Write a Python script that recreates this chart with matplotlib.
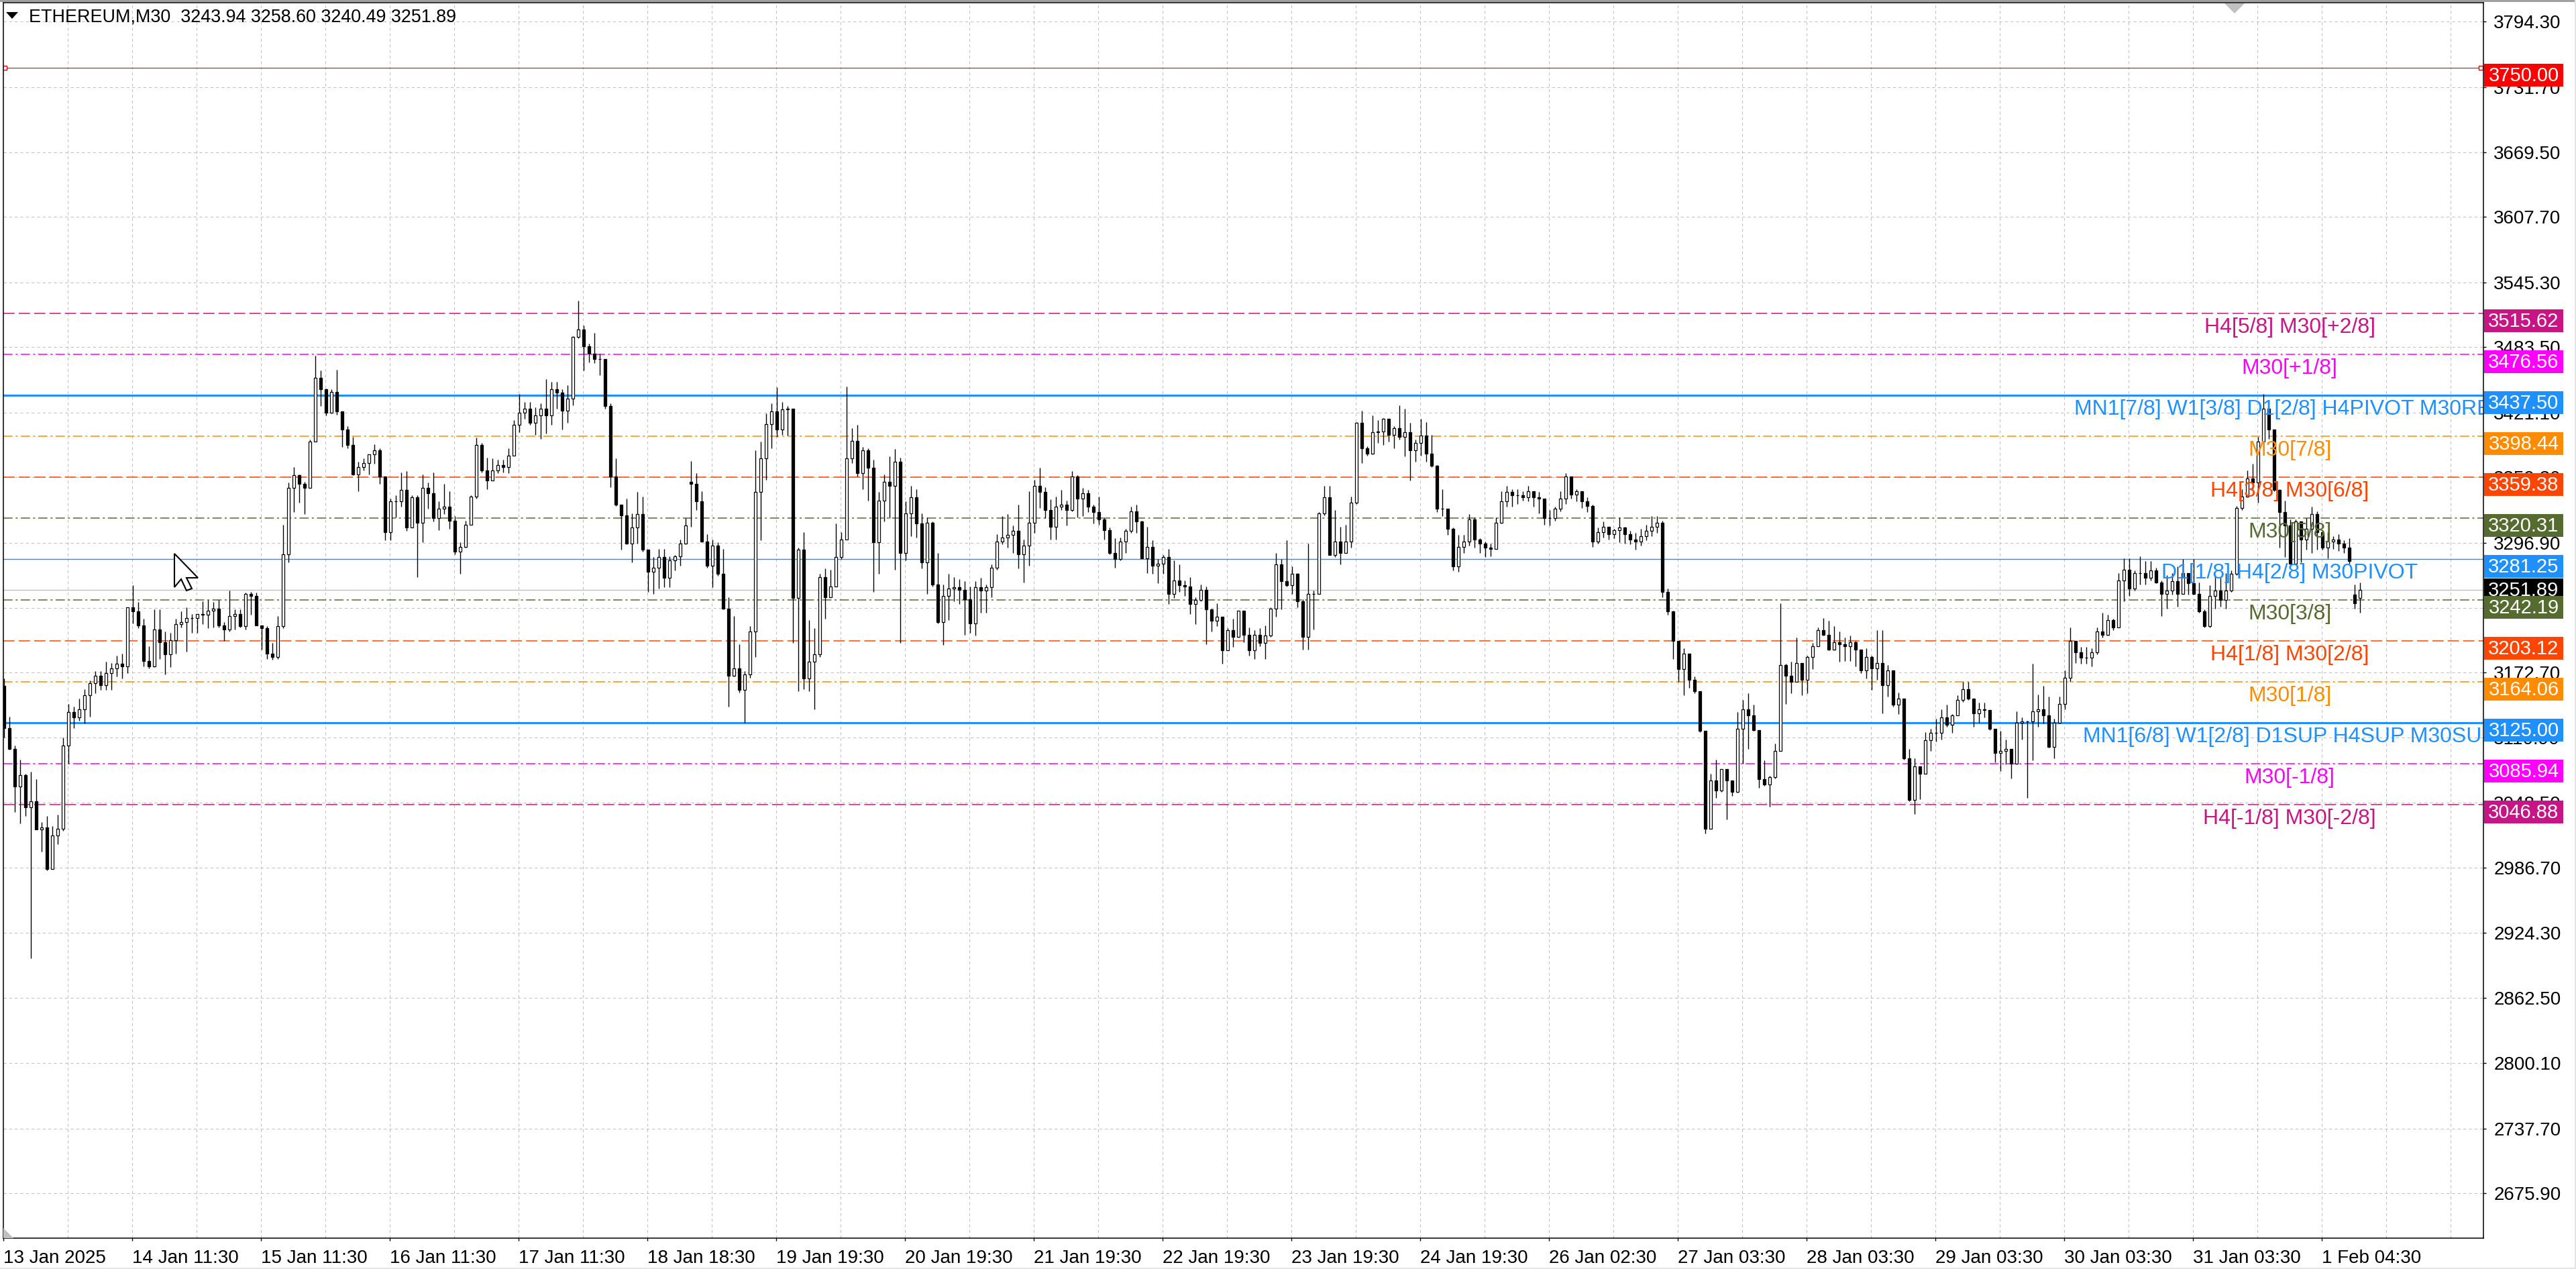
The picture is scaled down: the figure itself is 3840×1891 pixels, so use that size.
import numpy as np
import matplotlib
matplotlib.use('Agg')
import matplotlib.pyplot as plt
from matplotlib.patches import Polygon, Rectangle

plt.rcParams['font.family'] = ['Liberation Sans', 'DejaVu Sans']

W, H = 3840, 1891

# bars, oldest first, about one hour per bar
closes = [
    3120, 3100, 3064, 3075, 3044, 3050, 3023, 3025, 2985, 3017, 3024, 3103, 3135, 3130, 3138, 3151, 3163, 3170, 3161, 3172, 3177, 3181, 3179, 3235,
    3231, 3218, 3184, 3179, 3214, 3202, 3190, 3204, 3219, 3221, 3225, 3225, 3229, 3228, 3232, 3234, 3218, 3214, 3227, 3229, 3217, 3248, 3246, 3218,
    3215, 3191, 3188, 3217,
    3286, 3349, 3361, 3353, 3349, 3393, 3454, 3443, 3421, 3441, 3422, 3405, 3390, 3362, 3369, 3373, 3381, 3385, 3360, 3307,
    3336, 3336, 3347, 3311, 3340, 3316, 3349, 3344, 3320, 3329, 3331, 3318, 3288, 3293, 3314, 3341, 3390, 3366, 3356, 3366, 3371, 3369, 3380, 3409, 3421, 3425, 3411, 3418, 3425,
    3418, 3443, 3440, 3423, 3434, 3493, 3500, 3484, 3477, 3472, 3472, 3427, 3360, 3333, 3323, 3296, 3311, 3324, 3290, 3269, 3273, 3283, 3263, 3280,
    3284, 3296, 3313, 3353, 3336, 3298, 3275, 3294, 3267, 3234, 3170, 3177, 3156, 3171, 3212, 3345, 3377, 3410, 3422, 3405, 3424, 3425, 3244, 3290,
    3167, 3183, 3190, 3264, 3245, 3255, 3283, 3300, 3377, 3394, 3363, 3385, 3368, 3297, 3337, 3355, 3351, 3374, 3287, 3325, 3340, 3315, 3278, 3316,
    3257, 3221, 3246, 3253, 3254, 3252, 3243, 3220, 3254, 3251, 3254, 3273, 3298, 3302, 3304, 3308, 3286, 3294, 3316, 3351, 3345, 3328, 3312, 3331, 3333, 3328, 3360,
    3339, 3344, 3331, 3326, 3319, 3309, 3287, 3281, 3298, 3308, 3327, 3317, 3282, 3293, 3275, 3277, 3283, 3248, 3261, 3256, 3255, 3238, 3242, 3252,
    3233, 3222, 3226, 3194, 3213, 3207, 3232, 3209, 3194, 3209, 3201, 3208, 3234, 3276, 3260, 3256, 3267, 3241, 3207, 3248, 3248, 3325, 3340, 3285,
    3298, 3287, 3298, 3335, 3411, 3387, 3382, 3402, 3403, 3415, 3400, 3406, 3398, 3402, 3385, 3392, 3399, 3382, 3370, 3329, 3329, 3310, 3274, 3293,
    3298, 3319, 3300, 3296, 3292, 3291, 3316, 3336, 3345, 3342, 3342, 3340, 3346, 3340, 3339, 3320, 3320, 3329, 3339, 3360, 3343, 3346, 3336, 3332,
    3298, 3307, 3312, 3305, 3309, 3311, 3305, 3300, 3298, 3303, 3308, 3312, 3316, 3250, 3231, 3203, 3176, 3191, 3166, 3155, 3117, 3024, 3070, 3060,
    3081, 3070, 3059, 3119, 3138, 3132, 3118, 3071, 3066, 3073, 3098, 3180, 3170, 3164, 3182, 3166, 3188, 3198, 3213, 3209, 3195, 3202, 3200, 3198,
    3202, 3195, 3175, 3188, 3177, 3182, 3161, 3175, 3142, 3148, 3091, 3051, 3083, 3076, 3108, 3115, 3115, 3130, 3123, 3132, 3147, 3157, 3148, 3134,
    3138, 3137, 3119, 3096, 3098, 3100, 3086, 3125, 3126, 3126, 3136, 3138, 3132, 3102, 3125, 3143, 3168, 3203, 3192, 3187, 3187, 3192, 3212, 3209,
    3223, 3216, 3261, 3271, 3253, 3268, 3268, 3263, 3270, 3259, 3248, 3251, 3260, 3248, 3268, 3258, 3248, 3231,
    3217, 3246, 3251, 3242, 3251, 3267, 3330, 3341, 3358, 3354, 3393, 3425, 3405, 3347, 3326, 3313, 3277, 3317, 3300, 3310, 3324, 3307, 3292, 3298, 3300, 3296, 3292, 3279,
    3239, 3251.89,
]
highs = [
    3167, 3131, 3103, 3090, 3076, 3078, 3071, 3030, 3036, 3026, 3037, 3111, 3143, 3140, 3148, 3157, 3165, 3174, 3174, 3183, 3182, 3189, 3191, 3235,
    3256, 3240, 3224, 3198, 3233, 3233, 3212, 3211, 3224, 3231, 3235, 3229, 3229, 3241, 3242, 3240, 3242, 3221, 3251, 3233, 3233, 3249, 3250, 3249,
    3218, 3217, 3201, 3227,
    3314, 3354, 3369, 3362, 3355, 3395, 3475, 3461, 3444, 3443, 3462, 3415, 3408, 3398, 3374, 3377, 3381, 3391, 3387, 3359,
    3339, 3342, 3364, 3365, 3342, 3342, 3362, 3354, 3364, 3336, 3353, 3346, 3322, 3297, 3318, 3342, 3397, 3392, 3378, 3377, 3376, 3376, 3387, 3414, 3439, 3431, 3431, 3426, 3430,
    3453, 3450, 3450, 3443, 3447, 3494, 3528, 3504, 3487, 3497, 3477, 3472, 3430, 3377, 3328, 3339, 3325, 3345, 3341, 3290, 3283, 3291, 3291, 3284,
    3285, 3300, 3320, 3375, 3363, 3346, 3305, 3300, 3297, 3291, 3245, 3227, 3200, 3174, 3217, 3385, 3393, 3420, 3430, 3445, 3431, 3427, 3423, 3292,
    3307, 3223, 3215, 3267, 3272, 3271, 3315, 3307, 3446, 3406, 3409, 3388, 3387, 3376, 3345, 3362, 3379, 3386, 3378, 3336, 3351, 3348, 3325, 3321,
    3317, 3287, 3257, 3267, 3264, 3262, 3260, 3255, 3260, 3263, 3257, 3276, 3305, 3322, 3324, 3313, 3333, 3300, 3346, 3357, 3368, 3350, 3338, 3341, 3347, 3337, 3365,
    3361, 3349, 3347, 3333, 3341, 3320, 3311, 3301, 3302, 3310, 3331, 3333, 3318, 3312, 3299, 3281, 3285, 3291, 3280, 3276, 3261, 3264, 3245, 3257,
    3255, 3234, 3239, 3226, 3215, 3224, 3232, 3232, 3216, 3213, 3215, 3218, 3235, 3287, 3281, 3299, 3274, 3268, 3243, 3296, 3251, 3326, 3351, 3351,
    3328, 3312, 3314, 3341, 3412, 3423, 3389, 3418, 3414, 3416, 3415, 3408, 3428, 3425, 3411, 3395, 3415, 3412, 3400, 3371, 3348, 3326, 3311, 3304,
    3304, 3324, 3321, 3301, 3298, 3296, 3321, 3346, 3351, 3348, 3348, 3346, 3351, 3346, 3345, 3333, 3328, 3331, 3346, 3363, 3354, 3348, 3346, 3340,
    3333, 3311, 3317, 3311, 3310, 3321, 3312, 3308, 3306, 3310, 3314, 3322, 3322, 3318, 3253, 3232, 3203, 3196, 3191, 3169, 3155, 3117, 3076, 3090,
    3081, 3075, 3070, 3135, 3147, 3153, 3142, 3118, 3089, 3074, 3105, 3239, 3181, 3183, 3206, 3181, 3189, 3201, 3216, 3225, 3222, 3217, 3212, 3206,
    3208, 3203, 3195, 3196, 3189, 3213, 3213, 3180, 3170, 3154, 3148, 3100, 3091, 3082, 3116, 3119, 3129, 3138, 3142, 3133, 3151, 3164, 3164, 3148,
    3144, 3144, 3136, 3118, 3117, 3109, 3100, 3136, 3130, 3127, 3181, 3152, 3160, 3150, 3129, 3150, 3175, 3216, 3203, 3197, 3197, 3196, 3216, 3230,
    3228, 3224, 3268, 3282, 3282, 3270, 3284, 3279, 3279, 3273, 3261, 3266, 3268, 3274, 3281, 3268, 3281, 3259,
    3233, 3256, 3266, 3263, 3268, 3270, 3332, 3348, 3366, 3372, 3398, 3439, 3407, 3405, 3348, 3337, 3319, 3319, 3316, 3320, 3331, 3327, 3307, 3307, 3303, 3305, 3299, 3301,
    3257, 3258.60,
]
lows = [
    3111, 3099, 3040, 3029, 3036, 2900, 3023, 3002, 2984, 2985, 3009, 3022, 3086, 3120, 3127, 3124, 3131, 3153, 3156, 3156, 3156, 3169, 3167, 3172,
    3220, 3215, 3179, 3177, 3178, 3186, 3171, 3178, 3191, 3216, 3193, 3211, 3211, 3219, 3215, 3216, 3216, 3203, 3212, 3214, 3216, 3214, 3228, 3218,
    3195, 3186, 3185, 3186,
    3215, 3278, 3326, 3335, 3324, 3349, 3393, 3427, 3418, 3420, 3419, 3388, 3387, 3361, 3346, 3366, 3362, 3372, 3353, 3299,
    3299, 3321, 3331, 3308, 3311, 3264, 3297, 3329, 3317, 3309, 3324, 3310, 3286, 3267, 3292, 3314, 3339, 3364, 3348, 3356, 3363, 3364, 3363, 3380, 3402, 3415, 3409, 3400, 3396,
    3401, 3409, 3425, 3405, 3411, 3428, 3492, 3461, 3469, 3468, 3457, 3425, 3350, 3332, 3290, 3295, 3278, 3296, 3288, 3250, 3248, 3253, 3254, 3254,
    3270, 3275, 3295, 3312, 3328, 3297, 3273, 3254, 3265, 3233, 3140, 3169, 3154, 3125, 3168, 3188, 3299, 3357, 3387, 3398, 3400, 3399, 3201, 3155,
    3157, 3155, 3138, 3188, 3224, 3245, 3255, 3281, 3300, 3373, 3360, 3348, 3337, 3250, 3267, 3317, 3320, 3271, 3201, 3280, 3303, 3302, 3272, 3248,
    3255, 3220, 3199, 3223, 3241, 3238, 3209, 3211, 3208, 3230, 3230, 3245, 3271, 3295, 3292, 3287, 3272, 3259, 3275, 3306, 3330, 3320, 3300, 3300, 3328, 3313, 3327,
    3321, 3322, 3326, 3315, 3314, 3300, 3286, 3273, 3280, 3287, 3306, 3306, 3282, 3268, 3267, 3258, 3267, 3238, 3244, 3250, 3246, 3229, 3219, 3241,
    3200, 3212, 3217, 3181, 3194, 3197, 3206, 3202, 3189, 3186, 3198, 3186, 3207, 3226, 3233, 3255, 3248, 3235, 3195, 3195, 3214, 3256, 3323, 3285,
    3283, 3276, 3287, 3292, 3334, 3373, 3380, 3381, 3392, 3390, 3393, 3387, 3395, 3379, 3356, 3374, 3380, 3374, 3369, 3326, 3322, 3304, 3270, 3269,
    3287, 3294, 3292, 3287, 3283, 3284, 3298, 3315, 3331, 3331, 3334, 3337, 3336, 3331, 3325, 3314, 3313, 3318, 3327, 3334, 3339, 3336, 3330, 3326,
    3293, 3296, 3302, 3300, 3301, 3297, 3296, 3295, 3290, 3294, 3299, 3303, 3306, 3245, 3228, 3186, 3164, 3151, 3158, 3153, 3116, 3019, 3024, 3053,
    3059, 3033, 3055, 3058, 3086, 3100, 3117, 3063, 3065, 3045, 3072, 3098, 3143, 3153, 3164, 3151, 3153, 3176, 3198, 3208, 3194, 3194, 3183, 3184,
    3184, 3179, 3172, 3167, 3156, 3166, 3134, 3150, 3140, 3133, 3090, 3050, 3038, 3052, 3076, 3098, 3107, 3109, 3121, 3115, 3132, 3145, 3147, 3121,
    3125, 3130, 3118, 3087, 3079, 3085, 3072, 3085, 3109, 3053, 3089, 3121, 3124, 3101, 3091, 3124, 3138, 3164, 3182, 3181, 3181, 3179, 3190, 3206,
    3208, 3213, 3216, 3241, 3246, 3251, 3257, 3257, 3261, 3258, 3227, 3234, 3247, 3236, 3248, 3247, 3247, 3230,
    3216, 3216, 3234, 3236, 3234, 3250, 3266, 3328, 3340, 3348, 3335, 3391, 3396, 3346, 3292, 3283, 3276, 3279, 3278, 3290, 3287, 3290, 3290, 3282, 3291, 3289, 3287, 3277,
    3234, 3230,
]
first_open = 3160
# these bars open away from the previous close
open_gaps = {128: 3355, 438: 3247, 439: 3243.94}

date_labels = ['13 Jan 2025', '14 Jan 11:30', '15 Jan 11:30', '16 Jan 11:30', '17 Jan 11:30',
               '18 Jan 18:30', '19 Jan 19:30', '20 Jan 19:30', '21 Jan 19:30', '22 Jan 19:30',
               '23 Jan 19:30', '24 Jan 19:30', '26 Jan 02:30', '27 Jan 03:30', '28 Jan 03:30',
               '29 Jan 03:30', '30 Jan 03:30', '31 Jan 03:30', '1 Feb 04:30']
price_ticks = [3794.30, 3731.70, 3669.50, 3607.70, 3545.30, 3483.50, 3421.10, 3359.30, 3296.90,
               3234.50, 3172.70, 3110.90, 3048.50, 2986.70, 2924.30, 2862.50, 2800.10, 2737.70, 2675.90]

level_prices = [3515.62, 3476.56, 3437.50, 3398.44, 3359.38, 3320.31, 3281.25,
                3242.19, 3203.12, 3164.06, 3125.00, 3085.94, 3046.88]
level_names = ['H4[5/8] M30[+2/8]', 'M30[+1/8]', 'MN1[7/8] W1[3/8] D1[2/8] H4PIVOT M30RES',
               'M30[7/8]', 'H4[3/8] M30[6/8]', 'M30[5/8]', 'D1[1/8] H4[2/8] M30PIVOT',
               'M30[3/8]', 'H4[1/8] M30[2/8]', 'M30[1/8]', 'MN1[6/8] W1[2/8] D1SUP H4SUP M30SUP',
               'M30[-1/8]', 'H4[-1/8] M30[-2/8]']
level_colors = ['#C71585', '#FF00FF', '#1E90FF', '#FF8C00', '#FF4500', '#556B2F', '#1E90FF',
                '#556B2F', '#FF4500', '#FF8C00', '#1E90FF', '#FF00FF', '#C71585']
level_styles = ['dash', 'dot', 'thick', 'dot', 'dash', 'dot', 'thin',
                'dot', 'dash', 'dot', 'thick', 'dot', 'dash']
target_price = 3750.00
last_price = 3251.89
title_text = 'ETHEREUM,M30  3243.94 3258.60 3240.49 3251.89'


def to_fig(x, y):
    # screen pixel, measured from the top left, to figure fraction
    return x / W, 1 - y / H


fig = plt.figure(figsize=(W / 100, H / 100), dpi=100, facecolor='white')
left, bottom = to_fig(4.5, 1845)
right, top = to_fig(3702, 4)
ax = fig.add_axes([left, bottom, right - left, top - bottom])

# bar i sits 8 pixels after bar i-1
ax.set_xlim((4.5 - 6) / 8, (3702 - 6) / 8)
ax.set_ylim(2633, 3812.2)

closes = np.array(closes, dtype=float)
highs = np.array(highs, dtype=float)
lows = np.array(lows, dtype=float)
opens = np.concatenate([[first_open], closes[:-1]])
for k, v in open_gaps.items():
    opens[k] = v
idx = np.arange(len(closes))

# grid
grid_style = (0, (4, 4))
for p in price_ticks:
    ax.axhline(p, color='#c0c0c0', lw=0.75, ls=grid_style, zorder=1)
tick0 = (5 - 6) / 8
for k in range(1, 39):
    ax.axvline(tick0 + 12 * k, color='#c0c0c0', lw=0.75, ls=grid_style, zorder=1)

# levels go under the candles
ax.axhline(last_price, color='#c0c0c0', lw=1.0, zorder=2)
ax.axhline(target_price, color='#e60000', lw=0.8, zorder=2)
for p, c, s in zip(level_prices, level_colors, level_styles):
    if s == 'dash':
        ax.axhline(p, color=c, lw=1.1, ls=(0, (11, 4)), zorder=2)
    elif s == 'dot':
        ax.axhline(p, color=c, lw=1.1, ls=(0, (9, 3, 2, 3)), zorder=2)
    elif s == 'thick':
        ax.axhline(p, color=c, lw=2.2, zorder=2)
    else:
        ax.axhline(p, color=c, lw=1.0, zorder=2)

# candles
ax.vlines(idx, lows, highs, color='black', lw=1.0, zorder=3)
up = closes >= opens
ax.bar(idx[up], (closes - opens)[up], bottom=opens[up], width=0.56, facecolor='white',
       edgecolor='black', lw=0.9, zorder=4)
ax.bar(idx[~up], (opens - closes)[~up], bottom=closes[~up], width=0.56, facecolor='black',
       edgecolor='black', lw=0.9, zorder=4)

# level names, centred near the right edge and cut by the frame
for p, n, c in zip(level_prices, level_names, level_colors):
    ax.annotate(n, xy=((3413 - 6) / 8, p), xytext=(0, -21), textcoords='offset pixels',
                color=c, fontsize=23, ha='center', va='center', zorder=6,
                annotation_clip=False, clip_on=True)

ax.set_xticks(tick0 + 24 * np.arange(len(date_labels)))
ax.set_xticklabels(date_labels, fontsize=20, ha='left')
ax.set_yticks(price_ticks)
ax.set_yticklabels(['%.2f' % p for p in price_ticks], fontsize=20)
ax.yaxis.tick_right()
ax.tick_params(axis='x', length=3, width=1, pad=9, color='black')
ax.tick_params(axis='y', length=3, width=1, pad=8, color='black')
for sp in ax.spines.values():
    sp.set_linewidth(1.1)
    sp.set_zorder(7)

# red end markers of the target line
ax.plot([tick0 + 0.25, (3698 - 6) / 8], [target_price, target_price], ls='none', marker='s', ms=4,
        mfc='white', mec='#e60000', mew=1, zorder=5)


def price_box(p, colour, y_off, zo):
    # y_off is the box top in pixels relative to the line
    y_line = 32 + (3794.3 - p) * 1.561
    x0, y0 = to_fig(3703, y_line + y_off + 34)
    fig.add_artist(Rectangle((x0, y0), 118 / W, 34 / H, transform=fig.transFigure,
                             facecolor=colour, edgecolor='none', zorder=zo))
    tx, ty = to_fig(3762, y_line + y_off + 18)
    fig.text(tx, ty, '%.2f' % p, color='white', fontsize=21, ha='center', va='center', zorder=zo + 0.1)


price_box(last_price, 'black', -17, 10)
price_box(target_price, '#FF0000', -6, 11)
for p, c in zip(level_prices, level_colors):
    price_box(p, c, -6, 11)

# title row
tx, ty = to_fig(43, 25)
fig.text(tx, ty, title_text, fontsize=19.4, ha='left', va='center', color='black', zorder=12)
fig.add_artist(Polygon([to_fig(9, 18), to_fig(27, 18), to_fig(18, 28)], closed=True,
                       transform=fig.transFigure, facecolor='black', edgecolor='none', zorder=12))

# grey markers on the frame
fig.add_artist(Polygon([to_fig(3316, 5), to_fig(3346, 5), to_fig(3331, 20)], closed=True,
                       transform=fig.transFigure, facecolor='#c0c0c0', edgecolor='none', zorder=9))
fig.add_artist(Polygon([to_fig(5, 1830), to_fig(5, 1845), to_fig(20, 1845)], closed=True,
                       transform=fig.transFigure, facecolor='#c0c0c0', edgecolor='none', zorder=9))

# mouse pointer caught in the screenshot
arrow = [(260, 825), (260, 875), (270, 863), (278, 880), (286, 877), (278, 861), (295, 861)]
fig.add_artist(Polygon([to_fig(x, y) for x, y in arrow], closed=True, transform=fig.transFigure,
                       facecolor='white', edgecolor='black', lw=1.5, zorder=12))

# window border
x0, y0 = to_fig(0, 3)
fig.add_artist(Rectangle((x0, y0), 1, 3 / H, transform=fig.transFigure, facecolor='#a0a0a0', edgecolor='none'))
x0, y0 = to_fig(0, 1891)
fig.add_artist(Rectangle((x0, y0), 1, 2 / H, transform=fig.transFigure, facecolor='#e4e4e4', edgecolor='none'))
x0, y0 = to_fig(3838, 1891)
fig.add_artist(Rectangle((x0, y0), 2 / W, 1, transform=fig.transFigure, facecolor='#e4e4e4', edgecolor='none'))

fig.savefig('out.png', dpi=100)
